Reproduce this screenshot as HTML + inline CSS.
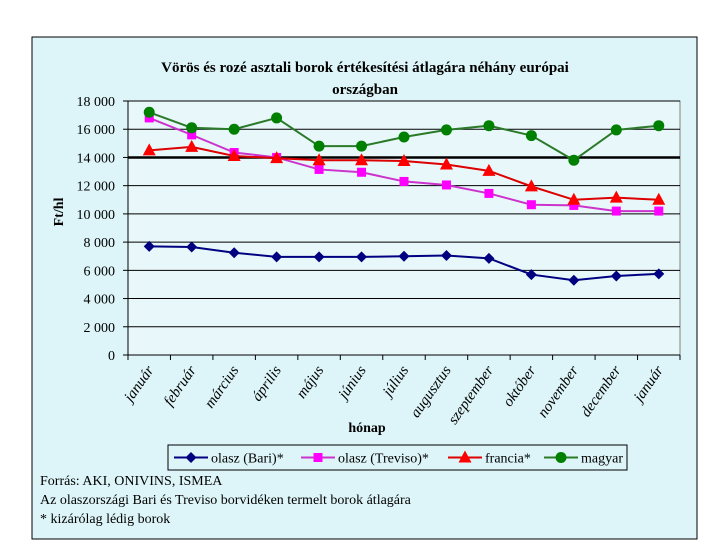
<!DOCTYPE html>
<html><head><meta charset="utf-8"><style>
body{margin:0;width:720px;height:540px;background:#fff;overflow:hidden;font-family:"Liberation Serif",serif}
</style></head><body>
<svg width="720" height="540" xmlns="http://www.w3.org/2000/svg">
<rect x="32" y="37" width="665" height="502" fill="#ddf5f8" stroke="#000" stroke-width="1"/>
<text x="365" y="72" text-anchor="middle" font-size="15" font-weight="bold">Vörös és rozé asztali borok értékesítési átlagára néhány európai</text>
<text x="365" y="94" text-anchor="middle" font-size="15" font-weight="bold">országban</text>
<rect x="128" y="101" width="552" height="254" fill="#e8f8fa" stroke="#808080"/>
<g id="grid"></g><g id="series"></g><g id="xlabels"></g>
<text transform="translate(63,212) rotate(-90)" text-anchor="middle" font-size="14" font-weight="bold">Ft/hl</text>
<text x="367" y="432" text-anchor="middle" font-size="14" font-weight="bold">hónap</text>
<rect x="168" y="445" width="459" height="25" fill="#ddf5f8" stroke="#000"/>
<g id="legend"></g>
<text x="40" y="485" font-size="14">Forrás: AKI, ONIVINS, ISMEA</text>
<text x="40" y="504" font-size="14">Az olaszországi Bari és Treviso borvidéken termelt borok átlagára</text>
<text x="40" y="523" font-size="14">* kizárólag lédig borok</text>
</svg>
<script>
const months=["január","február","március","április","május","június","július","augusztus","szeptember","október","november","december","január"];
const yTicks=[0,2000,4000,6000,8000,10000,12000,14000,16000,18000];
const bari=[7700,7650,7250,6950,6950,6950,7000,7050,6850,5700,5300,5600,5750];
const treviso=[16800,15600,14350,14000,13150,12950,12300,12050,11450,10650,10600,10200,10200];
const francia=[14500,14750,14100,13950,13800,13800,13750,13500,13050,11950,11000,11150,11000];
const magyar=[17200,16100,16000,16800,14800,14800,15450,15950,16250,15550,13800,15950,16250];
const seriesNames=["olasz (Bari)*","olasz (Treviso)*","francia*","magyar"];
const NS="http://www.w3.org/2000/svg";
const X0=128,X1=680,Y0=355,Y1=101,YMAX=18000;
const step=(X1-X0)/months.length;
const xs=i=>X0+step*(i+0.5);
const ys=v=>Y0-(v/YMAX)*(Y0-Y1);
function mk(t,a,p){const e=document.createElementNS(NS,t);for(const k in a)e.setAttribute(k,a[k]);p.appendChild(e);return e;}
const grid=document.getElementById('grid');
yTicks.forEach(v=>{
  const y=ys(v);
  if(v>0){const l=mk('line',{x1:X0,x2:X1,y1:y,y2:y,stroke:'#000','stroke-width':v===14000?2.5:1},grid);
  
  }
  const tk=mk('line',{x1:X0-5,x2:X0,y1:y,y2:y,stroke:'#000'},grid);
  
  
  const t=mk('text',{x:X0-13,y:y+5,'text-anchor':'end','font-size':14},grid);
  t.textContent=v===0?'0':v.toLocaleString('en').replace(',',' ');
  
  
});
mk('line',{x1:X0,x2:X0,y1:Y1,y2:Y0,stroke:'#000'},grid);
mk('line',{x1:X0,x2:X1,y1:Y0,y2:Y0,stroke:'#000'},grid);
for(let i=0;i<=months.length;i++){const x=X0+step*i;const tk=mk('line',{x1:x,x2:x,y1:Y0,y2:Y0+5,stroke:'#000'},grid);

}
const xl=document.getElementById('xlabels');
months.forEach((m,i)=>{
  const x=xs(i)+5,y=Y0+15;
  const t=mk('text',{x:x,y:y,'text-anchor':'end','font-size':15,'font-style':'italic',transform:`rotate(-55 ${x} ${y})`},xl);
  t.textContent=m;
  
  
});
const colors=["#000080","#ff00ff","#ff0000","#008000"];
const lineCol=["#000080","#cc33cc","#dd0000","#2a7a2a"];
function marker(k,x,y,p){
  if(k===0)return mk('polygon',{points:`${x},${y-5.5} ${x+5.5},${y} ${x},${y+5.5} ${x-5.5},${y}`,fill:colors[0]},p);
  if(k===1)return mk('rect',{x:x-4.5,y:y-4.5,width:9,height:9,fill:colors[1]},p);
  if(k===2)return mk('polygon',{points:`${x},${y-7} ${x+6.5},${y+5} ${x-6.5},${y+5}`,fill:colors[2]},p);
  return mk('circle',{cx:x,cy:y,r:5.5,fill:colors[3]},p);
}
const sg=document.getElementById('series');
[bari,treviso,francia,magyar].forEach((d,k)=>{
  const pl=mk('polyline',{points:d.map((v,i)=>xs(i)+','+ys(v)).join(' '),fill:'none',stroke:lineCol[k],'stroke-width':2},sg);
  
  
  d.forEach((v,i)=>{const m=marker(k,xs(i),ys(v),sg);
  
  });
});
const lg=document.getElementById('legend');
const lx=[174,301,448,544];
seriesNames.forEach((n,k)=>{
  const y=457.5;
  mk('line',{x1:lx[k],x2:lx[k]+34,y1:y,y2:y,stroke:lineCol[k],'stroke-width':2},lg);
  const m=marker(k,lx[k]+17,y,lg);
  
  
  const t=mk('text',{x:lx[k]+37,y:y+5,'font-size':14},lg);
  t.textContent=n;
  
  
});
</script>
</body></html>
